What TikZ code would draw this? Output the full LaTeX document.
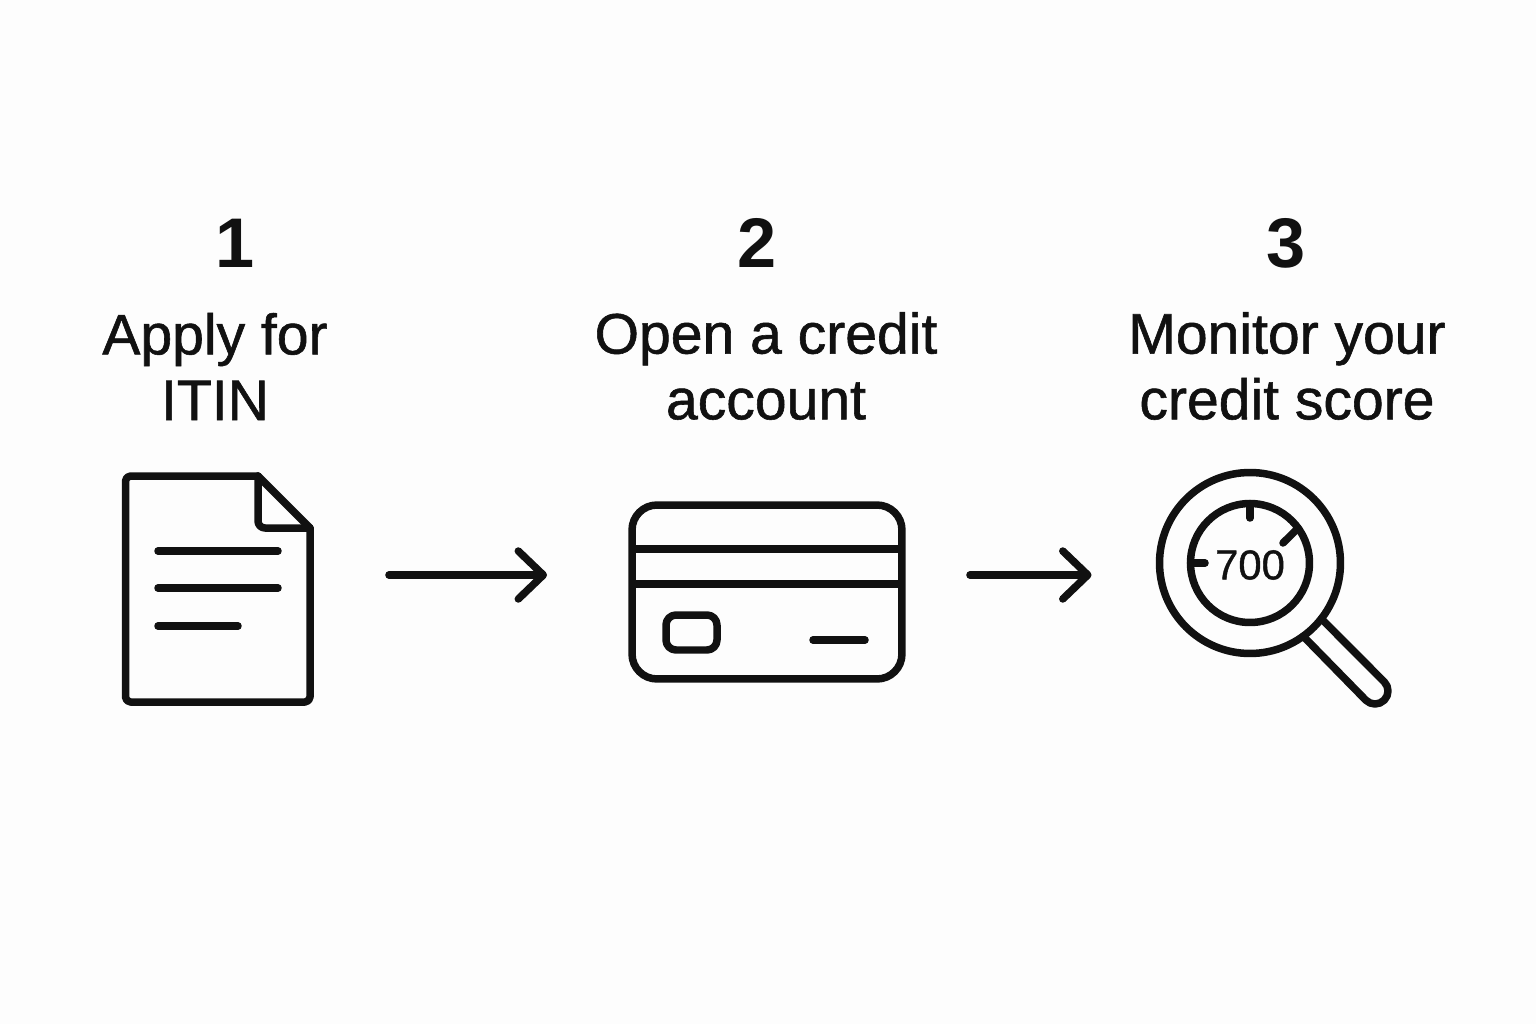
\documentclass[tikz,border=0pt]{standalone}
\usepackage{fontspec}
\setmainfont[FakeBold=1.0]{Liberation Sans}
\newfontfamily\numfont{Liberation Sans}
\usetikzlibrary{arrows.meta}
\definecolor{page-white}{RGB}{253,253,253}
\definecolor{ink-black}{RGB}{17,17,17}

\begin{document}
\begin{tikzpicture}[
    x=0.02cm, y=-0.02cm,
    %% Step number
    num/.style   = {font=\numfont\bfseries\fontsize{40}{44}\selectfont, text=ink-black, inner sep=0pt},
    %% Step caption
    captext/.style = {font=\fontsize{32.5}{37.4}\selectfont, text=ink-black,
                   align=center, inner sep=0pt},
    %% Icon outline
    icon/.style  = {draw=ink-black, line width=0.15cm, line join=round, line cap=round},
    %% Invisible frame round the page icon
    iconbox/.style = {rectangle, inner sep=0pt, outer sep=0pt},
    %% Card body and chip
    cardbox/.style = {icon, rectangle, inner sep=0pt, outer sep=0pt},
    %% Lens rings
    ring/.style  = {icon, circle, inner sep=0pt, outer sep=0pt},
    arr/.style   = {icon, -{Straight Barb[round, length=0.5cm, width=0.96cm]}},
]
\useasboundingbox (0,0) rectangle (1536,1024);
\fill[page-white] (0,0) rectangle (1536,1024);

%% ---- Row 1: numbers ----
\node[num] (numa) at (235,243) {1};
\node[num] (numb) at (757,243) {2};
\node[num] (numc) at (1286,243) {3};

%% ---- Row 2: captions ----
\node[captext] (capa) at (215,366.5) {Apply for\\ITIN};
\node[captext] (capb) at (766,366) {Open a credit\\account};
\node[captext] (capc) at (1287,366) {Monitor your\\credit score};

%% ---- Row 3: page icon ----
\node[iconbox, minimum width=3.69cm, minimum height=4.52cm] (doc) at (217.75,589) {};
\draw[icon, rounded corners=0.1cm] (258,476) -- (125.5,476) -- (125.5,702)
    -- (310,702) -- (310,528);
\draw[icon] (258,476) -- (310,528);
\draw[icon, rounded corners=0.14cm] (258,476) -- (258,528) -- (310,528);
\draw[icon] (158,551) -- (278,551);
\draw[icon] (158,588) -- (278,588);
\draw[icon] (158,626) -- (238,626);

%% ---- Row 3: card icon ----
\node[cardbox, rounded corners=0.5cm, minimum width=5.4cm, minimum height=3.48cm] (card) at (767,592) {};
\draw[icon, line cap=butt] (card.west |- 0,549) -- (card.east |- 0,549);
\draw[icon, line cap=butt] (card.west |- 0,584) -- (card.east |- 0,584);
\node[cardbox, rounded corners=0.2cm, minimum width=1.02cm, minimum height=0.7cm] (chip) at (691.5,632.5) {};
\draw[icon] (813,640) -- (865,640);

%% ---- Row 3: lens icon ----
\node[ring, minimum size=3.62cm] (lens) at (1250,563) {};
\node[ring, minimum size=2.38cm] (gauge) at (1250,563) {};
\node[font=\fontsize{23.8}{26}\selectfont, text=ink-black, inner sep=0pt] (score) at (1250,565) {700};
\draw[icon] (gauge.north) -- (1250,518);
\draw[icon] (gauge.west) -- (1205,563);
\draw[icon] (gauge.36) -- (1283,543);
\draw[icon] (lens.-38) -- (1384.2,681.8)
    arc[start angle=45, end angle=-135, radius=0.26cm] -- (lens.-54.5);

%% ---- step -> step arrows ----
\coordinate (arrowrow) at (0,575);
\draw[arr, shorten <=1.58cm, shorten >=1.7cm] (doc.east |- arrowrow) -- (card.west |- arrowrow);
\draw[arr, shorten <=1.36cm, shorten >=1.36cm] (card.east |- arrowrow) -- (lens.west |- arrowrow);

\end{tikzpicture}
\end{document}
